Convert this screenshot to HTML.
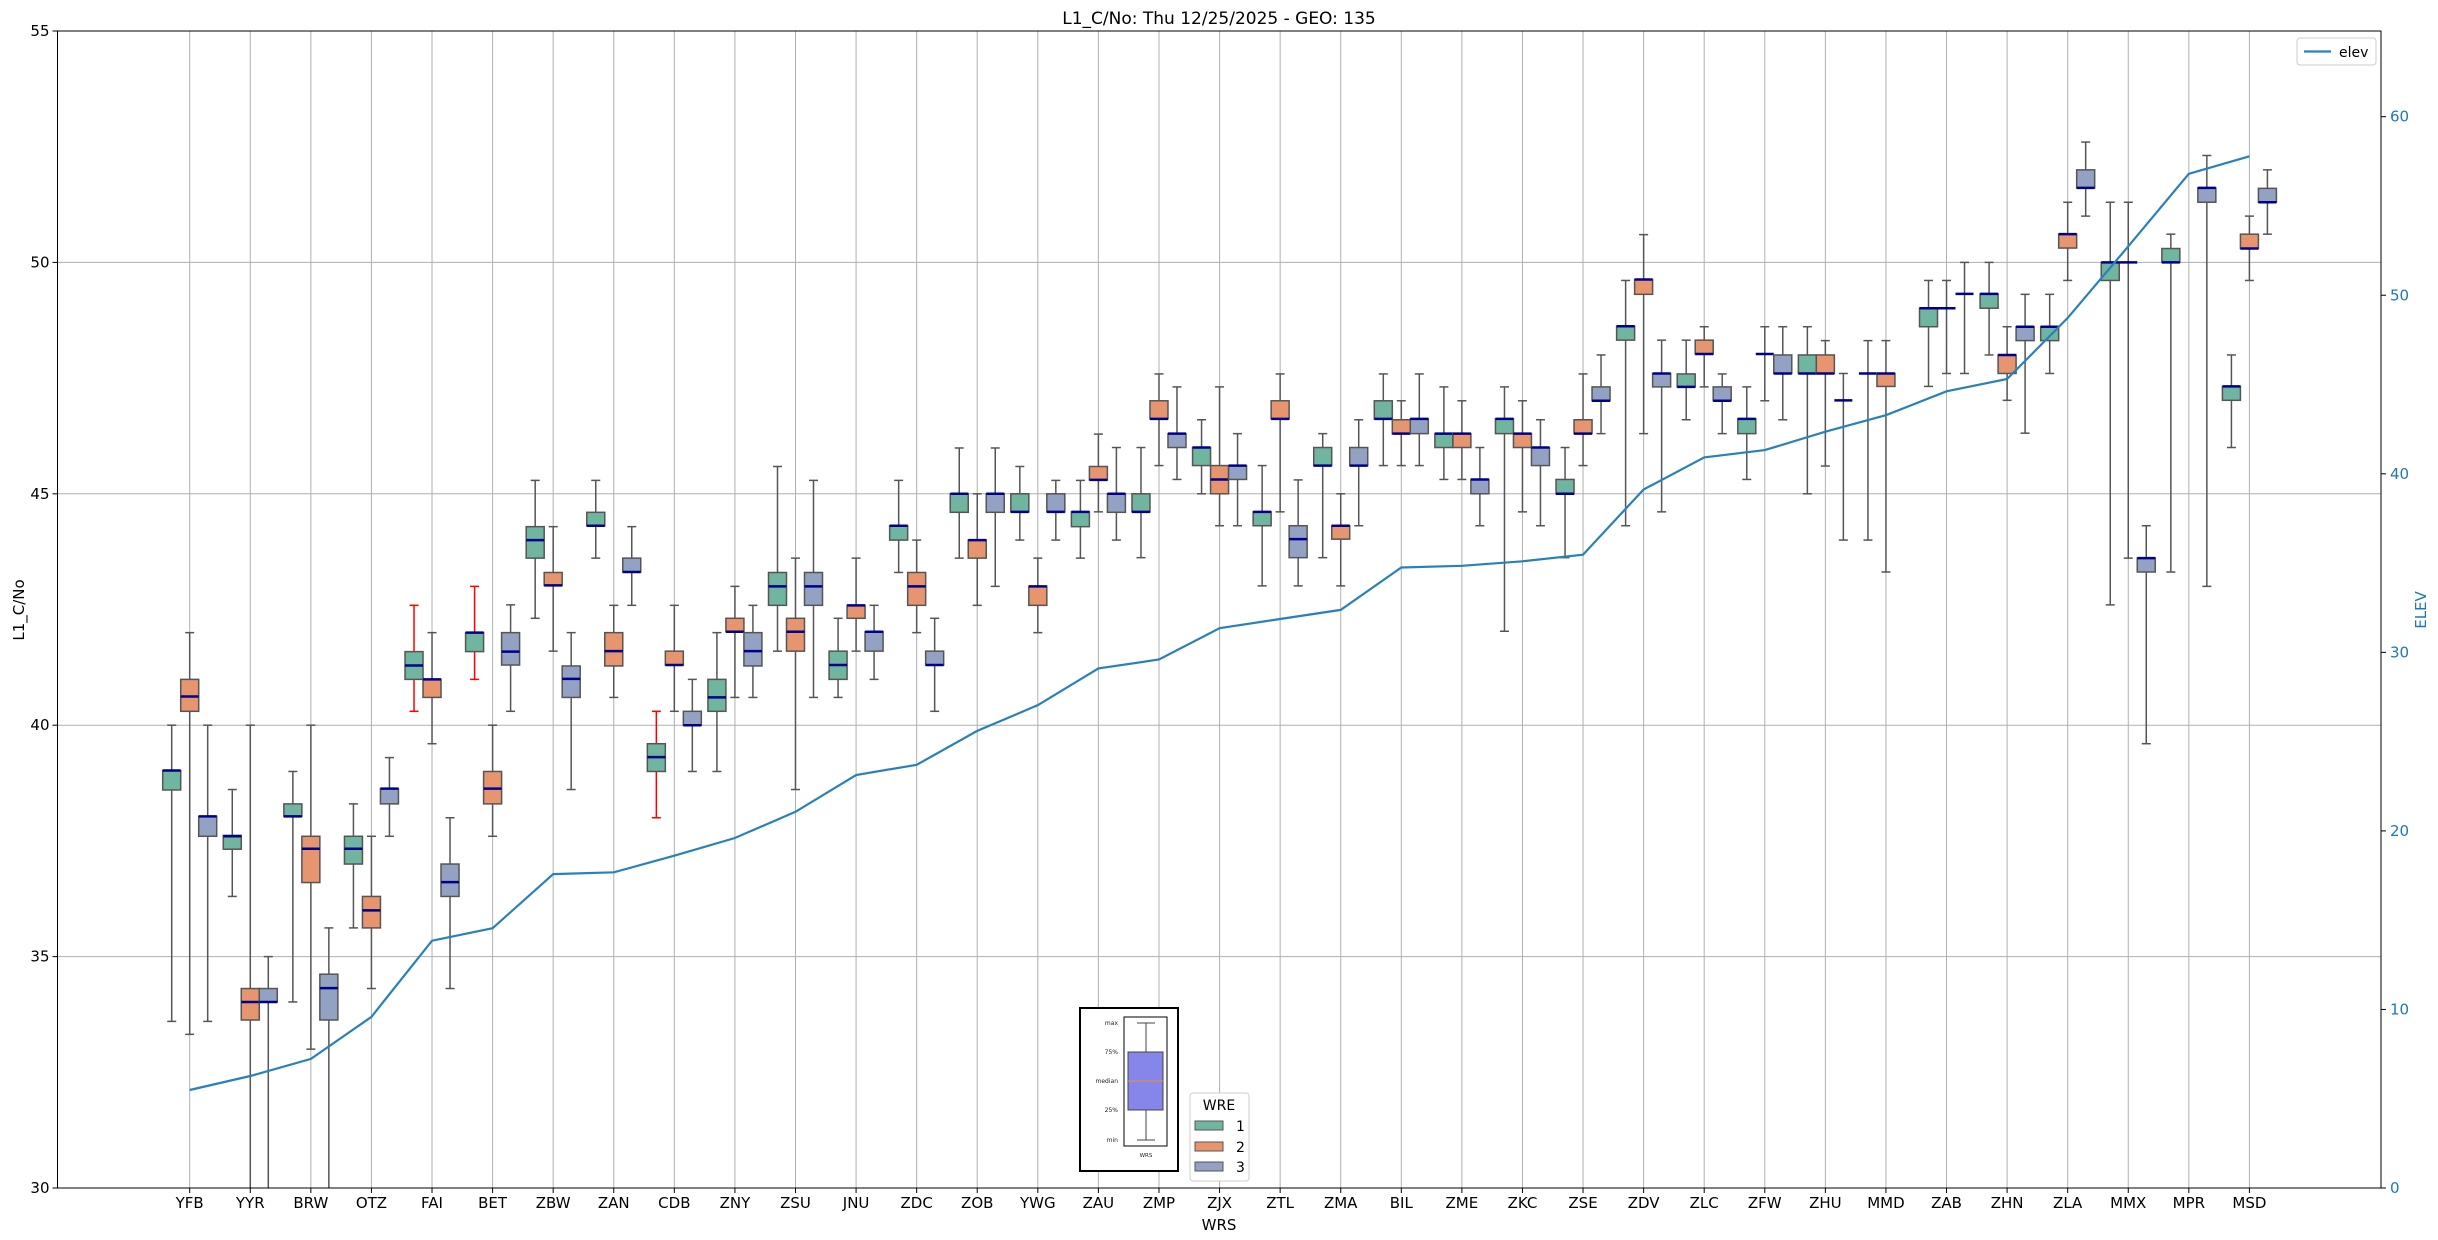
<!DOCTYPE html>
<html><head><meta charset="utf-8"><style>
html,body{margin:0;padding:0;background:#fff;}
svg{display:block;font-family:"DejaVu Sans","Liberation Sans",sans-serif;}
</style></head><body>
<svg id="chart" width="2438" height="1240" viewBox="0 0 2438 1240" xmlns="http://www.w3.org/2000/svg">
<defs><clipPath id="plotclip"><rect x="57.5" y="31" width="2323.5" height="1157"/></clipPath></defs>
<rect x="0" y="0" width="2438" height="1240" fill="#fff"/>
<g id="grid"></g>
<g id="boxes" clip-path="url(#plotclip)"></g>
<g id="line" clip-path="url(#plotclip)"></g>
<g id="axes"></g>
<text x="1219" y="24" text-anchor="middle" font-size="17">L1_C/No: Thu 12/25/2025 - GEO: 135</text>
<text x="1219" y="1230" text-anchor="middle" font-size="15">WRS</text>
<text transform="translate(24,610) rotate(-90)" text-anchor="middle" font-size="15">L1_C/No</text>
<text transform="translate(2426,610) rotate(-90)" text-anchor="middle" font-size="15" fill="#1f77b4">ELEV</text>
<g>
<rect x="2297" y="38" width="79" height="27" rx="3" fill="#fff" stroke="#ccc" stroke-width="1"/>
<line x1="2304" y1="51.5" x2="2331" y2="51.5" stroke="#2a80b9" stroke-width="2.2"/>
<text x="2339" y="57" font-size="14">elev</text>
</g>
<g>
<rect x="1080" y="1008" width="98" height="163" fill="#fff" stroke="#000" stroke-width="2"/>
<rect x="1124" y="1017" width="43" height="129" fill="#fff" stroke="#000" stroke-width="1"/>
<line x1="1146" y1="1023" x2="1146" y2="1052" stroke="#444" stroke-width="1"/>
<line x1="1146" y1="1110" x2="1146" y2="1140" stroke="#444" stroke-width="1"/>
<line x1="1137" y1="1023" x2="1155" y2="1023" stroke="#444" stroke-width="1"/>
<line x1="1137" y1="1140" x2="1155" y2="1140" stroke="#444" stroke-width="1"/>
<rect x="1128" y="1052" width="35" height="58" fill="#8585ea" stroke="#444" stroke-width="1"/>
<line x1="1128" y1="1081" x2="1163" y2="1081" stroke="#f28e2b" stroke-width="1"/>
<g font-size="6" text-anchor="end" fill="#222">
<text x="1118" y="1025">max</text><text x="1118" y="1054">75%</text><text x="1118" y="1083">median</text><text x="1118" y="1112">25%</text><text x="1118" y="1142">min</text>
</g>
<text x="1146" y="1157" font-size="5.5" text-anchor="middle" fill="#222">WRS</text>
</g>
<g>
<rect x="1190" y="1093" width="59" height="88" rx="3" fill="#fff" stroke="#ccc" stroke-width="1"/>
<text x="1219" y="1110" font-size="14" text-anchor="middle">WRE</text>
<rect x="1195" y="1121" width="28" height="9" fill="#70b59f" stroke="#555"/>
<text x="1236" y="1131" font-size="14">1</text>
<rect x="1195" y="1142" width="28" height="9" fill="#e6956f" stroke="#555"/>
<text x="1236" y="1152" font-size="14">2</text>
<rect x="1195" y="1162" width="28" height="9" fill="#93a2c3" stroke="#555"/>
<text x="1236" y="1172" font-size="14">3</text>
</g>
</svg>
<script>
const categories = ["YFB","YYR","BRW","OTZ","FAI","BET","ZBW","ZAN","CDB","ZNY","ZSU","JNU","ZDC","ZOB","YWG","ZAU","ZMP","ZJX","ZTL","ZMA","BIL","ZME","ZKC","ZSE","ZDV","ZLC","ZFW","ZHU","MMD","ZAB","ZHN","ZLA","MMX","MPR","MSD"];
const elev = [5.49,6.27,7.23,9.58,13.85,14.55,17.58,17.68,18.61,19.6,21.07,23.13,23.7,25.6,27.04,29.1,29.6,31.35,31.87,32.38,34.75,34.85,35.1,35.47,39.12,40.92,41.33,42.36,43.28,44.62,45.31,48.73,52.74,56.8,57.78];
// [min, q1, median, q3, max]
const wre1 = [[33.6,38.6,39.02,39.02,40.0],[36.3,37.32,37.6,37.62,38.61],[34.02,38.03,38.03,38.3,39.0],[35.62,37.0,37.33,37.6,38.3],[40.3,40.99,41.29,41.59,42.59],[40.99,41.59,42.0,42.0,43.0],[42.31,43.61,44.0,44.29,45.29],[43.61,44.31,44.31,44.6,45.29],[38.0,39.0,39.31,39.6,40.3],[39.0,40.3,40.6,40.99,42.0],[41.6,42.59,43.0,43.3,45.59],[40.6,40.99,41.3,41.6,42.31],[43.3,44.0,44.31,44.31,45.29],[43.61,44.6,45.0,45.0,45.99],[44.0,44.61,44.61,45.0,45.59],[43.61,44.29,44.61,44.61,45.29],[43.62,44.61,44.61,45.0,46.0],[45.0,45.61,46.0,46.0,46.6],[43.01,44.31,44.61,44.61,45.61],[43.62,45.61,45.61,46.0,46.3],[45.61,46.62,46.62,47.01,47.59],[45.31,46.0,46.3,46.3,47.31],[42.03,46.3,46.62,46.62,47.31],[43.62,45.0,45.0,45.31,46.0],[44.31,48.32,48.62,48.62,49.61],[46.6,47.31,47.31,47.59,48.32],[45.31,46.3,46.62,46.62,47.31],[45.0,47.6,47.6,48.0,48.61],[44.0,47.6,47.6,47.6,48.31],[47.32,48.61,49.01,49.01,49.61],[48.0,49.01,49.32,49.32,50.0],[47.6,48.31,48.61,48.61,49.31],[42.6,49.61,50.0,50.0,51.3],[43.31,50.0,50.0,50.3,50.61],[46.0,47.02,47.32,47.32,48.0]];
const wre2 = [[33.32,40.3,40.62,40.99,42.0],[28,33.63,34.02,34.31,40.0],[33.0,36.6,37.33,37.6,40.0],[34.31,35.62,36.0,36.3,37.6],[39.6,40.6,40.99,40.99,42.0],[37.6,38.3,38.63,39.0,40.0],[41.6,43.02,43.02,43.3,44.29],[40.6,41.28,41.6,42.0,42.59],[40.3,41.3,41.3,41.6,42.59],[40.6,42.02,42.02,42.31,43.0],[38.61,41.6,42.02,42.31,43.61],[41.6,42.31,42.59,42.59,43.61],[42.0,42.59,43.0,43.3,44.0],[42.59,43.61,44.0,44.0,45.0],[42.0,42.59,43.0,43.0,43.61],[44.61,45.3,45.3,45.59,46.29],[45.61,46.62,46.62,47.01,47.59],[44.31,45.0,45.31,45.61,47.31],[44.61,46.62,46.62,47.01,47.59],[43.01,44.02,44.31,44.31,45.0],[45.61,46.3,46.3,46.6,47.01],[45.31,46.0,46.3,46.3,47.01],[44.61,46.0,46.3,46.3,47.01],[45.61,46.3,46.3,46.6,47.59],[46.3,49.31,49.63,49.63,50.6],[47.31,48.02,48.02,48.32,48.61],[47.01,48.02,48.02,48.02,48.61],[45.6,47.6,47.6,48.0,48.31],[43.31,47.32,47.6,47.6,48.31],[47.6,49.01,49.01,49.01,49.61],[47.02,47.6,48.0,48.0,48.61],[49.61,50.31,50.61,50.61,51.3],[43.61,50.0,50.0,50.0,51.3],null,[49.61,50.3,50.3,50.61,51.0]];
const wre3 = [[33.6,37.6,38.03,38.03,40.0],[28,34.02,34.02,34.31,35.0],[28,33.63,34.32,34.62,35.62],[37.6,38.3,38.63,38.63,39.3],[34.31,36.3,36.61,37.0,38.0],[40.3,41.3,41.59,42.0,42.6],[38.61,40.6,41.0,41.28,42.0],[42.59,43.31,43.31,43.61,44.29],[39.0,40.0,40.0,40.3,40.99],[40.6,41.28,41.6,42.0,42.59],[40.6,42.59,43.0,43.3,45.29],[40.99,41.6,42.02,42.02,42.59],[40.3,41.3,41.3,41.6,42.31],[43.0,44.6,45.0,45.0,45.99],[44.0,44.61,44.61,45.0,45.29],[44.0,44.6,45.0,45.0,46.0],[45.31,46.0,46.3,46.3,47.31],[44.31,45.31,45.61,45.61,46.3],[43.01,43.62,44.02,44.31,45.3],[44.31,45.61,45.61,46.0,46.6],[45.61,46.3,46.62,46.62,47.59],[44.31,45.0,45.31,45.31,46.0],[44.31,45.61,46.0,46.0,46.6],[46.3,47.01,47.01,47.31,48.0],[44.61,47.31,47.6,47.6,48.32],[46.3,47.01,47.01,47.31,47.59],[46.6,47.6,47.6,48.0,48.61],[44.0,47.02,47.02,47.02,47.6],null,[47.6,49.32,49.32,49.32,50.0],[46.31,48.31,48.61,48.61,49.31],[51.0,51.61,51.61,52.0,52.6],[39.6,43.31,43.61,43.61,44.31],[43.0,51.3,51.61,51.61,52.31],[50.61,51.3,51.3,51.6,52.0]];
const leftTicks = [30,35,40,45,50,55];
const rightTicks = [0,10,20,30,40,50,60];
const redWhiskers = ["FAI-1","BET-1","CDB-1"];

const NS = "http://www.w3.org/2000/svg";
const PL = 57.5, PR = 2381, PT = 31, PB = 1188;
const YMIN = 30, YMAX = 55, EMAX = 64.8;
const X0 = 189.7, DX = 60.58, OFF = 18, BW = 18;
function xScale(i){ return X0 + i*DX; }
function yScale(v){ return PB - (v - YMIN)/(YMAX - YMIN)*(PB - PT); }
function eScale(v){ return PB - v/EMAX*(PB - PT); }
function mk(tag, attrs, parent){ const e = document.createElementNS(NS, tag); for (const k in attrs) e.setAttribute(k, attrs[k]); parent.appendChild(e); return e; }

const grid = document.getElementById('grid');
const axes = document.getElementById('axes');
const boxes = document.getElementById('boxes');
const lineG = document.getElementById('line');

leftTicks.forEach(t => {
  const y = yScale(t);
  const g = mk('line', {x1:PL, x2:PR, y1:y, y2:y, stroke:'#b0b0b0', 'stroke-width':1}, grid);
  
  
  mk('line', {x1:PL-5, x2:PL, y1:y, y2:y, stroke:'#000', 'stroke-width':1}, axes);
  const tx = mk('text', {x:PL-8, y:y+5, 'text-anchor':'end', 'font-size':15}, axes);
  tx.textContent = t;
  
  
});
rightTicks.forEach(t => {
  const y = eScale(t);
  mk('line', {x1:PR, x2:PR+5, y1:y, y2:y, stroke:'#000', 'stroke-width':1}, axes);
  const tx = mk('text', {x:PR+9, y:y+5, 'font-size':15, fill:'#1f77b4'}, axes);
  tx.textContent = t;
  
  
});
categories.forEach((c, i) => {
  const x = xScale(i);
  const g = mk('line', {x1:x, x2:x, y1:PT, y2:PB, stroke:'#b0b0b0', 'stroke-width':1}, grid);
  
  
  mk('line', {x1:x, x2:x, y1:PB, y2:PB+5, stroke:'#000', 'stroke-width':1}, axes);
  const tx = mk('text', {x:x, y:PB+20, 'text-anchor':'middle', 'font-size':15}, axes);
  tx.textContent = c;
  
  
});
mk('rect', {x:PL, y:PT, width:PR-PL, height:PB-PT, fill:'none', stroke:'#000', 'stroke-width':1}, axes);

const series = [{d:wre1, off:-OFF, fill:'#70b59f', h:1},{d:wre2, off:0, fill:'#e6956f', h:2},{d:wre3, off:OFF, fill:'#93a2c3', h:3}];
series.forEach(s => {
  s.d.forEach((v, i) => {
    if (!v) return;
    const cx = xScale(i) + s.off;
    const red = redWhiskers.indexOf(categories[i] + '-' + s.h) >= 0;
    const wc = red ? '#ff0000' : '#555';
    const g = mk('g', {}, boxes);
    
    
    const yMin = yScale(v[0]), yQ1 = yScale(v[1]), yMed = yScale(v[2]), yQ3 = yScale(v[3]), yMax = yScale(v[4]);
    mk('line', {x1:cx, x2:cx, y1:yQ1, y2:yMin, stroke:wc, 'stroke-width':1.5}, g);
    mk('line', {x1:cx, x2:cx, y1:yQ3, y2:yMax, stroke:wc, 'stroke-width':1.5}, g);
    mk('line', {x1:cx-4.5, x2:cx+4.5, y1:yMin, y2:yMin, stroke:wc, 'stroke-width':1.5}, g);
    mk('line', {x1:cx-4.5, x2:cx+4.5, y1:yMax, y2:yMax, stroke:wc, 'stroke-width':1.5}, g);
    if (yQ1 - yQ3 > 0.5) {
      mk('rect', {x:cx-BW/2, y:yQ3, width:BW, height:yQ1-yQ3, fill:s.fill, stroke:'#555', 'stroke-width':1.5}, g);
    }
    mk('line', {x1:cx-BW/2, x2:cx+BW/2, y1:yMed, y2:yMed, stroke:'#00008b', 'stroke-width':2.5}, g);
  });
});

const pts = elev.map((e, i) => xScale(i).toFixed(1) + ',' + eScale(e).toFixed(1)).join(' ');
const pl = mk('polyline', {points:pts, fill:'none', stroke:'#2a80b9', 'stroke-width':2.2}, lineG);


</script>
</body></html>
